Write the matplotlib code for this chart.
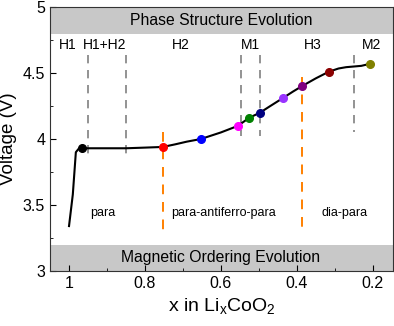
import matplotlib
matplotlib.use('Agg')
import matplotlib.pyplot as plt
from matplotlib.ticker import MultipleLocator

plt.rcParams['font.family'] = ['Liberation Sans', 'DejaVu Sans']

# Charge curve (x in LixCoO2, voltage)
curve_x = [1.0, 0.99, 0.982, 0.975, 0.966, 0.95, 0.9, 0.85, 0.8, 0.753, 0.72, 0.69, 0.653,
           0.6, 0.555, 0.526, 0.497, 0.47, 0.437, 0.41, 0.387, 0.35, 0.316, 0.29, 0.27,
           0.25, 0.23, 0.208]
curve_v = [3.34, 3.58, 3.9, 3.925, 3.93, 3.93, 3.93, 3.93, 3.935, 3.94, 3.96, 3.98, 4.00,
           4.05, 4.10, 4.16, 4.20, 4.25, 4.31, 4.36, 4.40, 4.46, 4.51, 4.535, 4.545,
           4.55, 4.555, 4.57]

# Marked states
pt_x = [0.966, 0.753, 0.653, 0.555, 0.526, 0.497, 0.437, 0.387, 0.316, 0.208]
pt_v = [3.93, 3.94, 4.00, 4.10, 4.16, 4.20, 4.31, 4.40, 4.51, 4.57]
pt_colors = ['black', 'red', 'blue', 'magenta', 'green', 'navy', '#9933ff', 'purple',
             'darkred', 'olive']

# Phase boundaries (gray) and magnetic boundaries (orange)
phase_bounds = [0.95, 0.85, 0.547, 0.497, 0.25]
phase_bottoms = [3.88, 3.88, 4.02, 4.02, 4.05]
mag_bounds = [0.753, 0.387]
mag_tops = [4.05, 4.47]

phase_labels = ['H1', 'H1+H2', 'H2', 'M1', 'H3', 'M2']
phase_label_x = [1.003, 0.905, 0.705, 0.521, 0.358, 0.203]
mag_labels = ['para', 'para-antiferro-para', 'dia-para']
mag_label_x = [0.91, 0.592, 0.274]

fig = plt.figure(figsize=(3.94, 3.26), dpi=100)
ax = fig.add_axes([0.127, 0.169, 0.870, 0.809])

ax.axhspan(4.8, 5.0, color='#c8c8c8', lw=0, zorder=0)
ax.axhspan(3.0, 3.2, color='#c8c8c8', lw=0, zorder=0)
ax.text(0.6, 4.9, 'Phase Structure Evolution', ha='center', va='center', fontsize=11.3)
ax.text(0.6, 3.1, 'Magnetic Ordering Evolution', ha='center', va='center', fontsize=11.3)

for xb, yb in zip(phase_bounds, phase_bottoms):
    ax.plot([xb, xb], [4.64, yb], color='gray', lw=1.2, ls=(0, (5, 4)), zorder=1)
for xb, yt in zip(mag_bounds, mag_tops):
    ax.plot([xb, xb], [yt, 3.29], color='#ff8000', lw=1.4, ls=(0, (5, 4)), zorder=1)

ax.plot(curve_x, curve_v, color='black', lw=1.5, zorder=2)
for x, v, c in zip(pt_x, pt_v, pt_colors):
    ax.plot(x, v, 'o', color=c, ms=5.5, zorder=3)

for lab, x in zip(phase_labels, phase_label_x):
    ax.text(x, 4.71, lab, ha='center', va='center', fontsize=10)
for lab, x in zip(mag_labels, mag_label_x):
    ax.text(x, 3.44, lab, ha='center', va='center', fontsize=9)

ax.set_xlim(1.05, 0.147)
ax.set_ylim(3, 5)
ax.xaxis.set_minor_locator(MultipleLocator(0.1))
ax.yaxis.set_minor_locator(MultipleLocator(0.25))
ax.set_xticks([1, 0.8, 0.6, 0.4, 0.2])
ax.set_xticklabels(['1', '0.8', '0.6', '0.4', '0.2'])
ax.set_yticks([3, 3.5, 4, 4.5, 5])
ax.set_yticklabels(['3', '3.5', '4', '4.5', '5'])
ax.tick_params(which='both', direction='in', labelsize=11.5)
ax.tick_params(which='major', length=4)
ax.tick_params(which='minor', length=2)
for s in ax.spines.values():
    s.set_color('#333333')

ax.set_xlabel(r'x in Li$_\mathregular{x}$CoO$_\mathregular{2}$', fontsize=14)
ax.set_ylabel('Voltage (V)', fontsize=13.5)

fig.savefig('out.png', dpi=100)
